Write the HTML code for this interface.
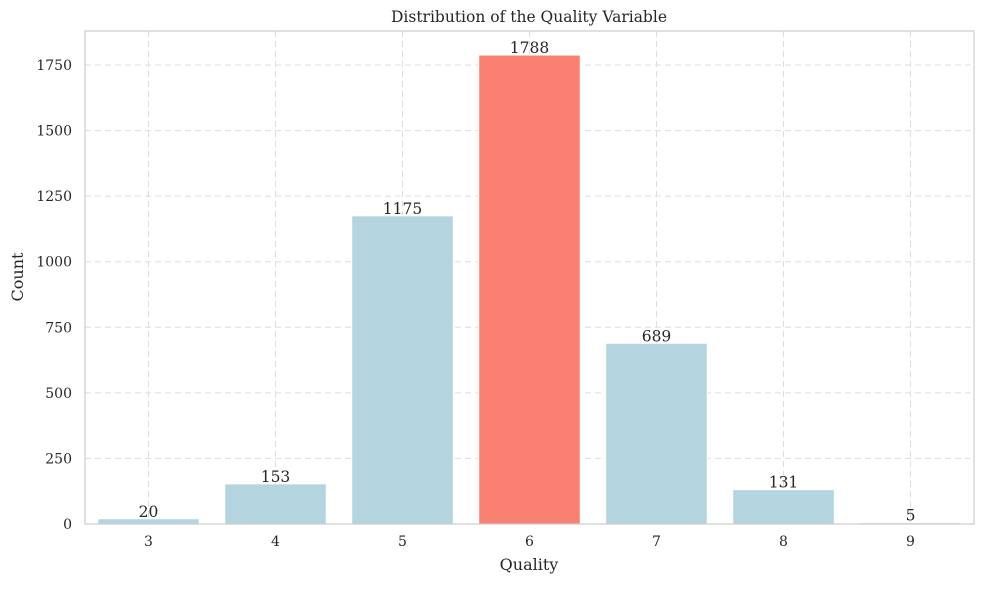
<!DOCTYPE html>
<html><head><meta charset="utf-8"><style>
html,body{margin:0;padding:0;background:#fff;}
svg text{font-family:"DejaVu Serif","Liberation Serif",serif;fill:#262626;}
</style></head><body>
<svg id="chart" width="984" height="584" viewBox="0 0 984 584" xmlns="http://www.w3.org/2000/svg">
<text x="529" y="22" font-size="15.5" text-anchor="middle">Distribution of the Quality Variable</text>
<g id="grid"></g><g id="bars"></g><g id="labels"></g><g id="ticks"></g>
<rect x="85" y="31" width="889" height="493" fill="none" stroke="#cccccc" stroke-width="1.2"/>
<text x="529" y="570" font-size="16" text-anchor="middle">Quality</text>
<text x="23" y="277" font-size="16" text-anchor="middle" transform="rotate(-90 23 277)">Count</text>
</svg>
<script>
const categories = ["3","4","5","6","7","8","9"];
const counts = [20,153,1175,1788,689,131,5];
const yTicks = [0,250,500,750,1000,1250,1500,1750];
const highlight = "6";

const L=85,R=974,T=31,B=524;
const step=(R-L)/7.0;
function xPos(i){return L+step*(i+0.5);}
function yPos(v){return B-v*(459/1750);}
const ns="http://www.w3.org/2000/svg";
function mk(tag,attrs,parent,txt){const e=document.createElementNS(ns,tag);for(const k in attrs)e.setAttribute(k,attrs[k]);if(txt!==undefined)e.textContent=txt;document.getElementById(parent).appendChild(e);return e;}
yTicks.forEach(t=>{
  const y=yPos(t);
  const g=mk('line',{x1:L,x2:R,y1:y,y2:y,stroke:'#dddddd','stroke-dasharray':'6,4','stroke-width':1},'grid');
  
  
  const tl=mk('text',{x:L-13,y:y+5,'font-size':14,'text-anchor':'end'},'ticks',String(t));
  
  
});
categories.forEach((c,i)=>{
  const x=xPos(i);
  const g=mk('line',{x1:x,x2:x,y1:T,y2:B,stroke:'#dddddd','stroke-dasharray':'6,4','stroke-width':1},'grid');
  
  
  const tl=mk('text',{x:x,y:B+22,'font-size':14,'text-anchor':'middle'},'ticks',c);
  
  
  const w=step*0.8,y=yPos(counts[i]);
  const b=mk('rect',{x:x-w/2,y:y,width:w,height:B-y,fill:c===highlight?'#fa8072':'#b4d5df',stroke:'#ffffff','stroke-width':1},'bars');
  
  
  const v=mk('text',{x:x,y:y-2,'font-size':15.5,'text-anchor':'middle'},'labels',String(counts[i]));
  
  
});
</script>
</body></html>
